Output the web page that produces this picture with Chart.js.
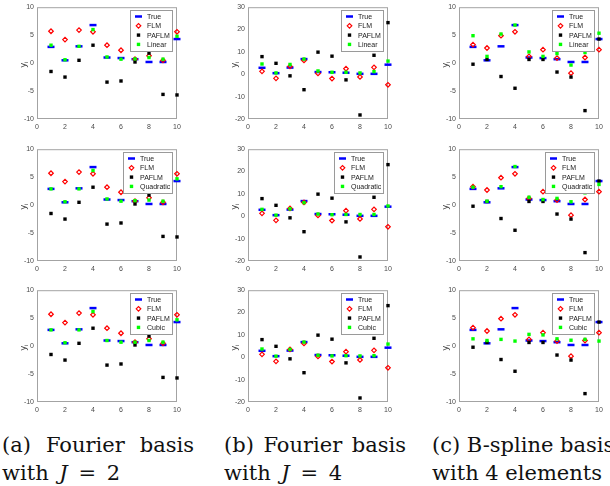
<!DOCTYPE html>
<html>
<head>
<meta charset="utf-8">
<script src="https://cdn.jsdelivr.net/npm/chart.js@4.4.1/dist/chart.umd.min.js"></script>
<style>
  html, body { margin: 0; padding: 0; background: #fff; }
  body { width: 610px; height: 486px; position: relative; overflow: hidden; }
  canvas { position: absolute; }
  .cap { position: absolute; font-family: "DejaVu Serif", serif; font-size: 21px; line-height: 21px; color: #111; white-space: nowrap; }
  .just { white-space: normal; text-align: justify; text-align-last: justify; }
</style>
</head>
<body>
<div class="cap just" style="left:2px; top:435px; width:192px">(a) Fourier basis</div>
<div class="cap" style="left:2px; top:463px; word-spacing:4px">with <i>J</i> = 2</div>
<div class="cap just" style="left:224px; top:435px; width:182px">(b) Fourier basis</div>
<div class="cap" style="left:224px; top:463px; word-spacing:4px">with <i>J</i> = 4</div>
<div class="cap" style="left:432px; top:435px">(c) B-spline basis</div>
<div class="cap" style="left:432px; top:463px">with 4 elements</div>

<script>
// observation index i = 1..10
const obsIndex = [1, 2, 3, 4, 5, 6, 7, 8, 9, 10];
const xTicks = [0, 2, 4, 6, 8, 10];
const yTicksSmall = [-10, -5, 0, 5, 10];
const yTicksWide = [-20, -10, 0, 10, 20, 30];

// true response, same in every panel
const yTrue = [2.9, 0.5, 3.0, 6.8, 1.0, 0.9, 0.7, 0.2, 0.2, 4.3];

// (a) Fourier basis, J = 2
const flmA = [5.7, 4.2, 5.9, 5.6, 3.2, 2.3, 0.7, 1.3, 0.5, 5.6];
const paflmA = [-1.5, -2.5, 0.5, 3.2, -3.4, -3.2, 0.2, 1.8, -5.6, -5.7];
const linearA = [3.2, 0.6, 3.0, 6.0, 1.1, 0.7, 0.75, 1.0, 0.7, 4.8];
const quadA = [2.9, 0.6, 2.9, 6.2, 1.1, 0.7, 0.8, 0.9, 0.7, 4.7];
const cubicA = [2.9, 0.6, 2.9, 6.2, 1.0, 0.7, 0.7, 1.0, 0.7, 4.7];

// (b) Fourier basis, J = 4
const flmB = [1.3, -1.8, 3.5, 6.2, 0.4, -1.9, 2.5, -1.2, 3.1, -4.7];
const paflmB = [7.9, 4.9, -0.7, -6.9, 9.9, 8.1, -2.5, -18.2, 8.5, 23.1];
const linearB = [4.6, 0.6, 4.4, 6.8, 1.5, 0.9, 0.9, 0.6, 1.2, 5.9];
const quadB = [3.1, 0.5, 3.3, 6.1, 1.0, 0.7, 0.8, 0.8, 0.8, 4.6];
const cubicB = [3.7, 0.5, 3.5, 6.8, 0.9, 0.6, 0.7, 0.6, 0.7, 5.9];

// (c) B-spline basis, 4 elements
const flmC = [3.3, 2.7, 4.9, 5.6, 1.2, 2.4, 0.9, -1.8, 1.0, 2.4];
const paflmC = [-0.2, 0.65, -2.4, -4.5, 0.65, 0.65, -1.6, -2.5, -8.5, 4.3];
const linearC = [4.9, 1.2, 5.2, 6.8, 2.0, 1.2, 1.7, -0.35, 1.9, 5.35];
const quadC = [3.2, 0.7, 3.3, 6.9, 1.4, 1.0, 1.2, 0.6, 2.2, 3.7];
const cubicC = [1.3, 1.0, 1.2, 0.9, 2.1, 2.0, 1.3, 1.05, 1.2, 0.9];

const panels = [
    { col: 0, row: 0, flm: flmA, paflm: paflmA, fit: linearA, fitName: 'Linear', yTicks: yTicksSmall },
    { col: 1, row: 0, flm: flmB, paflm: paflmB, fit: linearB, fitName: 'Linear', yTicks: yTicksWide },
    { col: 2, row: 0, flm: flmC, paflm: paflmC, fit: linearC, fitName: 'Linear', yTicks: yTicksSmall },
    { col: 0, row: 1, flm: flmA, paflm: paflmA, fit: quadA, fitName: 'Quadratic', yTicks: yTicksSmall },
    { col: 1, row: 1, flm: flmB, paflm: paflmB, fit: quadB, fitName: 'Quadratic', yTicks: yTicksWide },
    { col: 2, row: 1, flm: flmC, paflm: paflmC, fit: quadC, fitName: 'Quadratic', yTicks: yTicksSmall },
    { col: 0, row: 2, flm: flmA, paflm: paflmA, fit: cubicA, fitName: 'Cubic', yTicks: yTicksSmall },
    { col: 1, row: 2, flm: flmB, paflm: paflmB, fit: cubicB, fitName: 'Cubic', yTicks: yTicksWide },
    { col: 2, row: 2, flm: flmC, paflm: paflmC, fit: cubicC, fitName: 'Cubic', yTicks: yTicksSmall }
];

const colLeft = [0, 211, 422];
const rowTop = [0, 142, 283];
const CW = 185, CH = 139;
const tickFont = { family: '"Liberation Sans", Arial, sans-serif', size: 7 };
const tickColor = '#4a4a4a';

function toPoints(values) {
    return obsIndex.map((x, i) => ({ x: x, y: values[i] }));
}

function drawMarker(ctx, ds, x, y) {
    const opts = { pointStyle: ds.pointStyle, radius: ds.pointRadius, borderWidth: ds.pointBorderWidth, rotation: 0 };
    ctx.fillStyle = ds.pointBackgroundColor;
    ctx.strokeStyle = ds.pointBorderColor;
    ctx.lineWidth = ds.pointBorderWidth;
    if (Chart.helpers && Chart.helpers.drawPoint) {
        Chart.helpers.drawPoint(ctx, opts, x, y);
        return;
    }
    const r = ds.pointRadius;
    ctx.beginPath();
    if (ds.pointStyle === 'line') {
        ctx.moveTo(x - r, y); ctx.lineTo(x + r, y); ctx.stroke();
    } else if (ds.pointStyle === 'rectRot') {
        ctx.moveTo(x, y - r); ctx.lineTo(x + r, y); ctx.lineTo(x, y + r); ctx.lineTo(x - r, y); ctx.closePath(); ctx.stroke();
    } else {
        const s = r / Math.SQRT2;
        ctx.rect(x - s, y - s, 2 * s, 2 * s); ctx.fill();
    }
}

// box around the axes, y label and the in-axes legend
const panelDecor = {
    id: 'panelDecor',
    beforeDatasetsDraw(chart) {
        const { ctx, chartArea: a } = chart;
        ctx.save();
        ctx.strokeStyle = '#a3a3a3';
        ctx.lineWidth = 1;
        ctx.strokeRect(a.left + 0.5, a.top + 0.5, a.width - 1, a.height - 1);
        ctx.restore();
    },
    afterDatasetsDraw(chart) {
        const { ctx, chartArea: a } = chart;
        ctx.save();
        ctx.font = '7px "Liberation Sans", Arial, sans-serif';
        const sets = chart.data.datasets;
        const tw = Math.max(...sets.map(d => ctx.measureText(d.label).width));
        const w = Math.round(17 + tw + 2), h = 41;
        const x0 = Math.round(a.right - 5 - w), y0 = Math.round(a.top + 3);
        ctx.fillStyle = '#fff';
        ctx.fillRect(x0, y0, w, h);
        ctx.strokeStyle = '#9a9a9a';
        ctx.lineWidth = 1;
        ctx.strokeRect(x0 + 0.5, y0 + 0.5, w, h);
        sets.forEach((ds, i) => {
            const cy = y0 + 6.5 + i * 9.3;
            drawMarker(ctx, ds, x0 + 8.5, cy);
            ctx.fillStyle = '#1a1a1a';
            ctx.textAlign = 'left';
            ctx.textBaseline = 'middle';
            ctx.fillText(ds.label, x0 + 17, cy + 0.5);
        });
        ctx.restore();
    },
    afterDraw(chart) {
        const { ctx, chartArea: a } = chart;
        ctx.save();
        ctx.translate(a.left - 14, (a.top + a.bottom) / 2);
        ctx.rotate(-Math.PI / 2);
        ctx.fillStyle = '#333';
        ctx.textBaseline = 'alphabetic';
        ctx.textAlign = 'left';
        ctx.font = '9px "Liberation Sans", Arial, sans-serif';
        const wy = ctx.measureText('y').width;
        ctx.fillText('y', -wy, 2.5);
        ctx.font = '6px "Liberation Sans", Arial, sans-serif';
        ctx.fillText('i', 0, 5);
        ctx.restore();
    }
};

function makeDatasets(p) {
    return [
        {
            label: 'True', data: toPoints(yTrue), order: 4,
            pointStyle: 'line', pointRadius: 3.5, pointBorderWidth: 2.5,
            pointBorderColor: '#0000ff', pointBackgroundColor: '#0000ff'
        },
        {
            label: 'FLM', data: toPoints(p.flm), order: 3,
            pointStyle: 'rectRot', pointRadius: 2.3, pointBorderWidth: 1.2,
            pointBorderColor: '#ff0000', pointBackgroundColor: 'rgba(255,255,255,0)'
        },
        {
            label: 'PAFLM', data: toPoints(p.paflm), order: 2,
            pointStyle: 'rect', pointRadius: 2.4, pointBorderWidth: 0,
            pointBorderColor: '#000000', pointBackgroundColor: '#000000'
        },
        {
            label: p.fitName, data: toPoints(p.fit), order: 1,
            pointStyle: 'rect', pointRadius: 2.4, pointBorderWidth: 0,
            pointBorderColor: '#00ff00', pointBackgroundColor: '#00ff00'
        }
    ].map(ds => Object.assign(ds, { showLine: false, clip: false, pointHoverRadius: ds.pointRadius }));
}

panels.forEach(p => {
    const canvas = document.createElement('canvas');
    canvas.width = CW;
    canvas.height = CH;
    canvas.style.left = colLeft[p.col] + 'px';
    canvas.style.top = rowTop[p.row] + 'px';
    document.body.appendChild(canvas);

    const yT = p.yTicks;
    new Chart(canvas.getContext('2d'), {
        type: 'scatter',
        data: { datasets: makeDatasets(p) },
        options: {
            responsive: false,
            animation: false,
            devicePixelRatio: 1,
            events: [],
            layout: { padding: { left: 0, right: 8, top: 6, bottom: 0 } },
            plugins: { legend: { display: false }, tooltip: { enabled: false } },
            scales: {
                x: {
                    type: 'linear', min: xTicks[0], max: xTicks[xTicks.length - 1],
                    grid: { display: false, drawTicks: false },
                    border: { display: false },
                    ticks: { color: tickColor, font: tickFont, padding: 4, maxRotation: 0, autoSkip: false },
                    afterBuildTicks: s => { s.ticks = xTicks.map(v => ({ value: v })); },
                    afterFit: s => { s.height = 20; }
                },
                y: {
                    type: 'linear', min: yT[0], max: yT[yT.length - 1],
                    grid: { display: false, drawTicks: false },
                    border: { display: false },
                    ticks: { color: tickColor, font: tickFont, padding: 3, autoSkip: false },
                    afterBuildTicks: s => { s.ticks = yT.map(v => ({ value: v })); },
                    afterFit: s => { s.width = 37; }
                }
            }
        },
        plugins: [panelDecor]
    });
});
</script>
</body>
</html>
